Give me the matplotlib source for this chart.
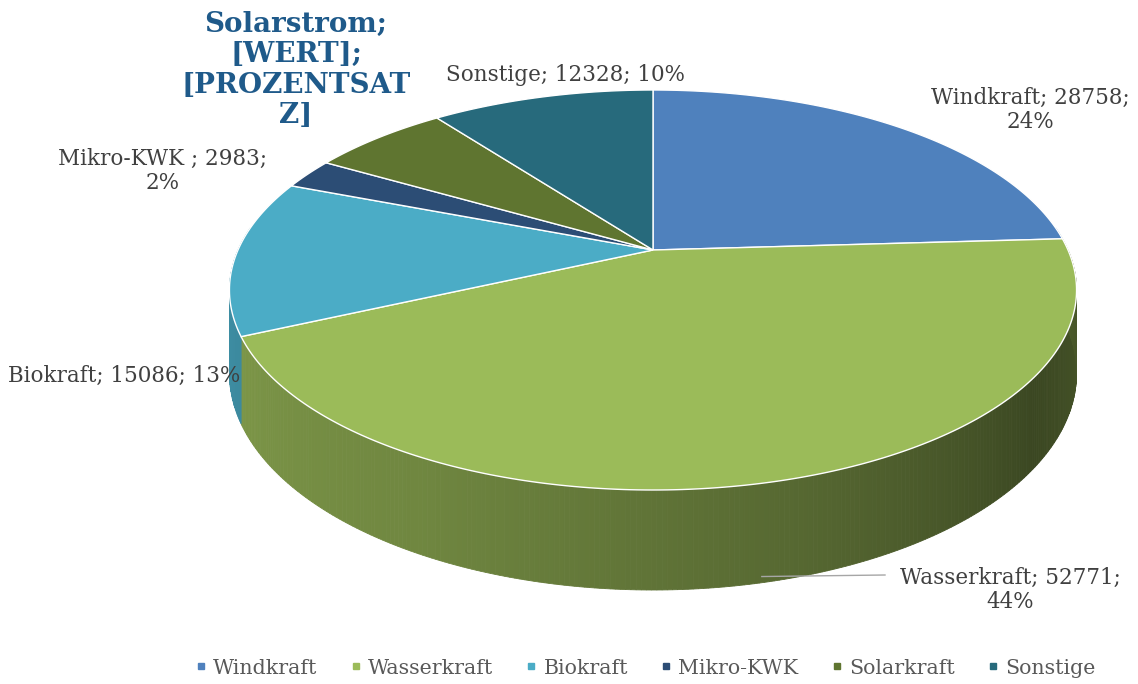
import numpy as np
import matplotlib
matplotlib.use("Agg")
import matplotlib.pyplot as plt
from matplotlib.patches import Polygon
from matplotlib.lines import Line2D
import matplotlib.colors as mcolors

# ---- data ----
categories = ["Windkraft", "Wasserkraft", "Biokraft", "Mikro-KWK", "Solarkraft", "Sonstige"]
values = [28758, 52771, 15086, 2983, 7600, 12328]
colors = ["#4F81BD", "#9BBB59", "#4BACC6", "#2C4D75", "#5F7530", "#276A7C"]
label_texts = ["Windkraft; 28758;\n24%", "Wasserkraft; 52771;\n44%", "Biokraft; 15086; 13%",
               "Mikro-KWK ; 2983;\n2%", "Solarstrom;\n[WERT];\n[PROZENTSAT\nZ]", "Sonstige; 12328; 10%"]

W, H = 1138, 684
fig = plt.figure(figsize=(W / 100, H / 100), dpi=100)
ax = fig.add_axes([0, 0, 1, 1])
ax.set_xlim(0, W)
ax.set_ylim(H, 0)
ax.axis("off")

# ---- projection of a tilted disc with perspective ----
cx, cy = 653.0, 250.0
rx = 415.0
q, c = -142.0, 0.2
depth = 80.0


def proj(a, down=0.0):
    u, v = np.cos(a), np.sin(a)
    w = 1 + c * v
    x = cx + rx * u / w
    y = (cy + q * v) / w + down / w
    return x, y


vals = np.array(values, dtype=float)
fracs = vals / vals.sum()
cum = np.concatenate([[0], np.cumsum(fracs)])


def ang(f):
    # clockwise from 12 o'clock
    return np.pi / 2 - 2 * np.pi * f


def shade(col, f):
    r, g, b = mcolors.to_rgb(col)
    return (r * f, g * f, b * f)


def wall_factor(a):
    t = (np.mod(a, 2 * np.pi) - np.pi) / np.pi
    t = np.clip(t, 0, 1)
    pts_t = [0.0, 0.35, 0.6, 0.8, 1.0]
    pts_f = [0.85, 0.72, 0.55, 0.38, 0.48]
    return np.interp(t, pts_t, pts_f)


# ---- side walls ----
amin, amax = np.pi - 0.12, 2 * np.pi + 0.12
for i in range(len(values)):
    a0, a1 = ang(cum[i + 1]), ang(cum[i])
    for shift in (0, 2 * np.pi, -2 * np.pi):
        lo, hi = max(a0 + shift, amin), min(a1 + shift, amax)
        if hi > lo:
            n = max(int((hi - lo) / 0.01), 2)
            edges = np.linspace(lo, hi, n + 1)
            for k in range(n):
                e0, e1 = edges[k], edges[k + 1]
                x0, y0 = proj(e0)
                x1, y1 = proj(e1)
                x0b, y0b = proj(e0, depth)
                x1b, y1b = proj(e1, depth)
                colr = shade(colors[i], wall_factor((e0 + e1) / 2))
                ax.add_patch(Polygon([(x0, y0), (x1, y1), (x1b, y1b), (x0b, y0b)],
                                     closed=True, facecolor=colr, edgecolor=colr,
                                     linewidth=0.6, zorder=1))

# ---- top faces ----
for i in range(len(values)):
    a_start, a_end = ang(cum[i]), ang(cum[i + 1])
    arc = np.linspace(a_start, a_end, 200)
    xs, ys = proj(arc)
    pts = [(cx, cy)] + list(zip(xs, ys))
    ax.add_patch(Polygon(pts, closed=True, facecolor=colors[i], edgecolor="white",
                         linewidth=1.0, zorder=3))

# ---- labels ----
txt_col = "#404040"
fs = 15.5
ser = "DejaVu Serif"
ax.text(1030, 110, label_texts[0], ha="center", va="center", fontsize=fs, color=txt_col,
        family=ser, linespacing=1.15, zorder=5)
ax.text(1010, 590, label_texts[1], ha="center", va="center", fontsize=fs, color=txt_col,
        family=ser, linespacing=1.15, zorder=5)
ax.text(124, 376, label_texts[2], ha="center", va="center", fontsize=fs, color=txt_col,
        family=ser, zorder=5)
ax.text(163, 171, label_texts[3], ha="center", va="center", fontsize=fs, color=txt_col,
        family=ser, linespacing=1.15, zorder=5)
ax.text(566, 75, label_texts[5], ha="center", va="center", fontsize=fs, color=txt_col,
        family=ser, zorder=5)
ax.text(296, 70, label_texts[4], ha="center", va="center", fontsize=20, color="#1F5A8A",
        family=ser, fontweight="bold", linespacing=1.17, zorder=5)

# leader line for Wasserkraft
mid = ang((cum[1] + cum[2]) / 2)
lx, ly = proj(mid, depth)
ax.add_line(Line2D([lx - 15, 885], [ly - 4, 575], color="#A6A6A6", linewidth=1.0, zorder=5))

# ---- legend ----
handles = [Line2D([0], [0], marker="s", linestyle="none", markersize=5,
                  markerfacecolor=col, markeredgecolor=col) for col in colors]
leg = fig.legend(handles, categories, loc="center", bbox_to_anchor=(645 / W, 1 - 668 / H),
                 ncol=6, frameon=False, handlelength=0.6, handletextpad=0.3,
                 columnspacing=1.55, prop={"family": ser, "size": 14.8})
for t in leg.get_texts():
    t.set_color("#595959")

fig.savefig("out.png", dpi=100)
